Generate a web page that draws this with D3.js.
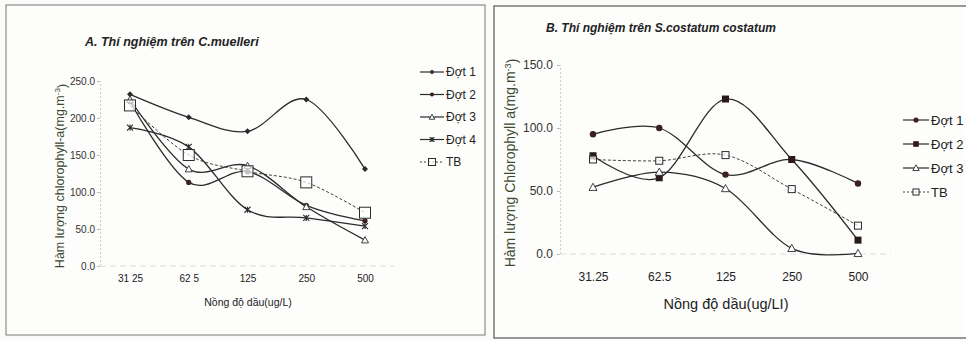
<!DOCTYPE html>
<html><head><meta charset="utf-8">
<script src="https://cdn.jsdelivr.net/npm/d3@7"></script>
<style>
html,body{margin:0;padding:0;background:#fbfbfa;}
svg{display:block;font-family:"Liberation Sans",Arial,sans-serif;}
</style></head>
<body>
<svg id="c" width="966" height="340"></svg>
<script>
// ---------- data ----------
const categoriesA = ["31 25", "62 5", "125", "250", "500"];
const dot1A = [232, 201, 182, 225, 131];
const dot2A = [222, 113, 127.5, 82, 61];
const dot3A = [225, 131, 135.5, 80, 35];
const dot4A = [187, 161, 76, 65, 54];
const tbA   = [217, 150, 128, 113, 72];
const yTicksA = [0, 50, 100, 150, 200, 250];

const categoriesB = ["31.25", "62.5", "125", "250", "500"];
const dot1B = [95, 100, 63, 75, 56];
const dot2B = [78, 60.5, 123, 75, 11];
const dot3B = [53, 65, 52, 4.5, 0.5];
const tbB   = [75, 74, 78.5, 51.5, 22.5];
const yTicksB = [0, 50, 100, 150];

const svg = d3.select("#c");
const ink = "#2b2b2b";

// frames
svg.append("rect").attr("x",6).attr("y",5).attr("width",479).attr("height",330)
  .attr("fill","#fdfdfc").attr("stroke","#777").attr("stroke-width",1);
svg.append("rect").attr("x",494).attr("y",6).attr("width",480).attr("height",332)
  .attr("fill","#fdfdfc").attr("stroke","#555").attr("stroke-width",1.2);

function marker(g, type, x, y, size) {
  const s = size;
  if (type === "diamond") {
    g.append("path").attr("d", `M${x},${y-s}L${x+s},${y}L${x},${y+s}L${x-s},${y}Z`).attr("fill", ink);
  } else if (type === "circle") {
    g.append("circle").attr("cx", x).attr("cy", y).attr("r", s).attr("fill", "#3a2020");
  } else if (type === "square") {
    g.append("rect").attr("x", x-s).attr("y", y-s).attr("width", 2*s).attr("height", 2*s).attr("fill", "#2a1a1a");
  } else if (type === "triangle") {
    g.append("path").attr("d", `M${x},${y-s}L${x+s},${y+s*0.8}L${x-s},${y+s*0.8}Z`)
      .attr("fill", "#fff").attr("stroke", ink).attr("stroke-width", 0.9);
  } else if (type === "star") {
    g.append("path").attr("d", `M${x-s},${y-s}L${x+s},${y+s}M${x-s},${y+s}L${x+s},${y-s}M${x},${y-s}L${x},${y+s}`)
      .attr("stroke", ink).attr("stroke-width", 1.1);
  } else if (type === "osquare") {
    g.append("rect").attr("x", x-s).attr("y", y-s).attr("width", 2*s).attr("height", 2*s)
      .attr("fill", "#fff").attr("fill-opacity", 0.7).attr("stroke", ink).attr("stroke-width", 1);
  }
}

function panel(cfg) {
  const x = d3.scalePoint().domain(cfg.cats).range(cfg.xr);
  const y = d3.scaleLinear().domain(cfg.ydom).range(cfg.yr);
  const g = svg.append("g");

  // y axis (faint)
  const yAxis = d3.axisLeft(y).tickValues(cfg.yticks).tickFormat(d3.format(".1f")).tickSize(3).tickPadding(cfg.tickPad);
  const ga = g.append("g").attr("transform", `translate(${cfg.axisX},0)`).call(yAxis);
  ga.select(".domain").attr("stroke", "#ccc").attr("stroke-dasharray", "2,2");
  ga.selectAll(".tick line").attr("stroke", "#bbb");
  ga.selectAll(".tick text").attr("fill", "#333").attr("font-size", cfg.yFont);
  // bottom faint baseline
  g.append("line").attr("x1", cfg.axisX).attr("x2", cfg.xr[1]+ (cfg.xr[1]-cfg.xr[0])/8)
    .attr("y1", y(0)).attr("y2", y(0)).attr("stroke", "#ddd").attr("stroke-dasharray", "6,4");

  // x labels
  const xAxis = d3.axisBottom(x).tickSize(0).tickPadding(0);
  const gx = g.append("g").attr("transform", `translate(0,${cfg.xLabY})`).call(xAxis);
  gx.select(".domain").remove();
  gx.selectAll(".tick text").attr("fill", "#222").attr("font-size", cfg.xFont).attr("dy", "0.71em");

  // titles
  g.append("text").attr("x", cfg.titleX).attr("y", cfg.titleY).attr("font-size", cfg.titleFont)
    .attr("font-style", "italic").attr("font-weight", "bold").attr("fill", "#222").text(cfg.title);
  g.append("text").attr("x", cfg.xTitleX).attr("y", cfg.xTitleY).attr("text-anchor", "middle")
    .attr("font-size", cfg.xTitleFont).attr("fill", "#222").text(cfg.xTitle);
  const yt = g.append("text").attr("transform", `translate(${cfg.yTitleX},${cfg.yTitleY}) rotate(-90)`)
    .attr("text-anchor", "middle").attr("font-size", cfg.yTitleFont).attr("fill", "#3c4a32");
  yt.append("tspan").text(cfg.yTitle);
  yt.append("tspan").attr("dy", "-0.45em").attr("font-size", cfg.yTitleFont*0.65).text("-3");
  yt.append("tspan").attr("dy", "0.45em").text(")");

  const line = d3.line().x((d, i) => x(cfg.cats[i])).y(d => y(d)).curve(d3.curveCardinal.tension(0));

  cfg.series.forEach(s => {
    g.append("path").attr("d", line(s.values)).attr("fill", "none").attr("stroke", ink)
      .attr("stroke-width", s.dash ? 0.9 : 1.3).attr("stroke-dasharray", s.dash ? "3,2" : null);
  });
  cfg.series.forEach(s => {
    s.values.forEach((v, i) => marker(g, s.marker, x(cfg.cats[i]), y(v), s.size));
  });

  // legend
  cfg.series.forEach((s, i) => {
    const ly = cfg.legY + i * cfg.legStep;
    g.append("line").attr("x1", cfg.legX).attr("x2", cfg.legX + cfg.legLen).attr("y1", ly).attr("y2", ly)
      .attr("stroke", ink).attr("stroke-width", s.dash ? 0.9 : 1.2).attr("stroke-dasharray", s.dash ? "2,2" : null);
    marker(g, s.marker, cfg.legX + cfg.legLen/2, ly, s.legSize || s.size*0.8);
    g.append("text").attr("x", cfg.legX + cfg.legLen + 2).attr("y", ly).attr("dy", "0.35em")
      .attr("font-size", cfg.legFont).attr("fill", "#222").text(s.name);
  });
}

panel({
  cats: categoriesA, xr: [130, 365], ydom: [0, 250], yr: [266, 81], yticks: yTicksA,
  axisX: 100, tickPad: 2, yFont: 10, xFont: 10, xLabY: 275,
  title: "A. Thí nghiệm trên C.muelleri", titleX: 85, titleY: 46, titleFont: 12.5,
  xTitle: "Nồng độ dầu(ug/L)", xTitleX: 248, xTitleY: 306, xTitleFont: 10.5,
  yTitle: "Hàm lượng chlorophyll-a(mg.m", yTitleX: 64, yTitleY: 176, yTitleFont: 12.5,
  legX: 420, legLen: 24, legY: 72, legStep: 22.5, legFont: 12,
  series: [
    {name: "Đợt 1", values: dot1A, marker: "diamond", size: 3},
    {name: "Đợt 2", values: dot2A, marker: "circle", size: 2.6},
    {name: "Đợt 3", values: dot3A, marker: "triangle", size: 3.5},
    {name: "Đợt 4", values: dot4A, marker: "star", size: 3},
    {name: "TB", values: tbA, marker: "osquare", size: 5.5, dash: true, legSize: 3.5}
  ]
});

panel({
  cats: categoriesB, xr: [593, 858], ydom: [0, 150], yr: [254, 65], yticks: yTicksB,
  axisX: 560, tickPad: 4, yFont: 12, xFont: 12, xLabY: 272,
  title: "B. Thí nghiệm trên S.costatum costatum", titleX: 546, titleY: 32, titleFont: 12,
  xTitle: "Nồng độ dầu(ug/LI)", xTitleX: 726, xTitleY: 309, xTitleFont: 14.5,
  yTitle: "Hàm lượng Chlorophyll a(mg.m", yTitleX: 515, yTitleY: 163, yTitleFont: 14,
  legX: 903, legLen: 26, legY: 120, legStep: 24, legFont: 13,
  series: [
    {name: "Đợt 1", values: dot1B, marker: "circle", size: 3.2},
    {name: "Đợt 2", values: dot2B, marker: "square", size: 3.5},
    {name: "Đợt 3", values: dot3B, marker: "triangle", size: 4},
    {name: "TB", values: tbB, marker: "osquare", size: 3.5, dash: true, legSize: 3}
  ]
});
</script>
</body></html>
